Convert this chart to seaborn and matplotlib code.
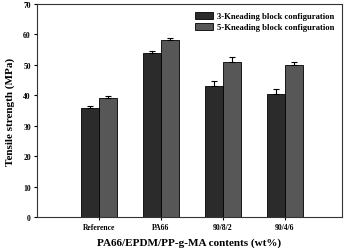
import pandas as pd
import matplotlib
matplotlib.use("Agg")
import matplotlib.pyplot as plt
import seaborn as sns
import numpy as np

categories = ["Reference", "PA66", "90/8/2", "90/4/6"]
series = ["3-Kneading block configuration", "5-Kneading block configuration"]
strength_3 = [36.0, 54.0, 43.2, 40.5]
strength_5 = [39.2, 58.1, 51.0, 50.1]
err_3 = [0.5, 0.7, 1.6, 1.6]
err_5 = [0.5, 0.6, 1.6, 0.7]
colors = ["#2b2b2b", "#575757"]

sns.set_style("ticks")
plt.rcParams["font.family"] = ["Liberation Serif", "DejaVu Serif"]
plt.rcParams["font.weight"] = "bold"
plt.rcParams["text.color"] = "black"
plt.rcParams["axes.labelcolor"] = "black"
plt.rcParams["xtick.color"] = "black"
plt.rcParams["ytick.color"] = "black"

df = pd.DataFrame({
    "content": categories * 2,
    "config": [series[0]] * 4 + [series[1]] * 4,
    "strength": strength_3 + strength_5,
    "err": err_3 + err_5,
})

fig = plt.figure(figsize=(3.5, 2.53), dpi=100)
ax = fig.add_axes([0.106, 0.138, 0.871, 0.842])
sns.barplot(data=df, x="content", y="strength", hue="config", order=categories,
            hue_order=series, palette=colors, errorbar=None, width=0.58,
            edgecolor="black", linewidth=0.6, ax=ax)

# error bars on top of each bar
for i, cfg in enumerate(series):
    cont = ax.containers[i]
    sub = df[df["config"] == cfg].set_index("content").loc[categories]
    xs = [p.get_x() + p.get_width() / 2 for p in cont.patches]
    ax.errorbar(xs, sub["strength"], yerr=[np.zeros(len(xs)), sub["err"]],
                fmt="none", ecolor="black", elinewidth=0.8, capsize=2.5, capthick=0.8)

ax.set_xlim(-1, 3.92)
ax.set_ylim(0, 70)
ax.set_yticks(range(0, 71, 10))
ax.tick_params(labelsize=5.5, length=2.5, width=0.8, pad=2)
for lab in ax.get_xticklabels() + ax.get_yticklabels():
    lab.set_fontweight("bold")
ax.set_xlabel("PA66/EPDM/PP-g-MA contents (wt%)", fontsize=8, fontweight="bold", labelpad=4)
ax.set_ylabel("Tensile strength (MPa)", fontsize=8, fontweight="bold", labelpad=6)
for s in ax.spines.values():
    s.set_linewidth(0.8)
    s.set_color("#333333")

leg = ax.legend(loc="upper right", fontsize=6.2, frameon=False, handlelength=2.0,
                handleheight=0.9, borderaxespad=0.5, labelspacing=0.3, handletextpad=0.5)
for t in leg.get_texts():
    t.set_fontweight("bold")

fig.savefig("out.png", dpi=100)
